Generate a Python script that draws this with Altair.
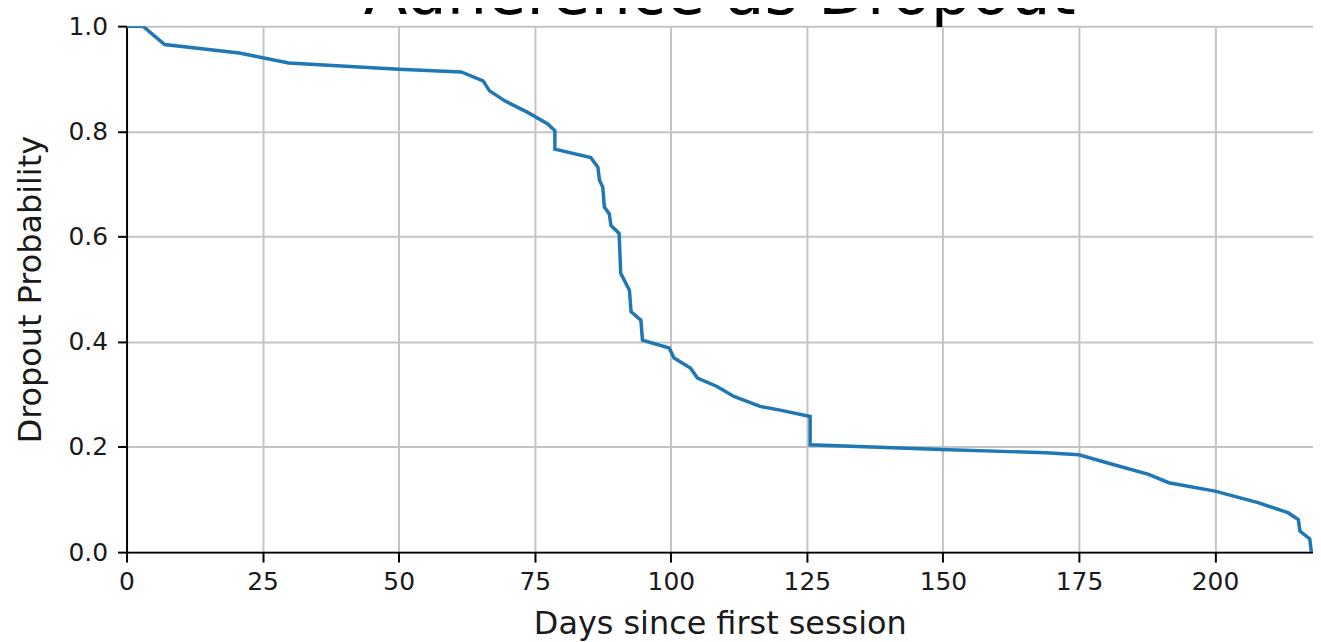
import altair as alt
import pandas as pd

# Kaplan-Meier style dropout curve
days = [0, 3, 7, 20.7, 25, 29.8, 50, 61.5, 65.5, 66.7, 69.5, 73.7, 77.4,
        78.7, 78.7, 85.3, 86.6, 86.9, 87.5, 87.8, 88.7, 89.0, 90.5, 90.8,
        92.4, 92.7, 94.5, 94.8, 99.7, 100.6, 103.6, 104.9, 108.5, 111.6,
        116.4, 120.1, 125.6, 125.6, 149.7, 168.9, 175, 181.1, 187.8, 191.5,
        200, 207.9, 213.4, 215.3, 215.6, 217.4, 217.7]
probs = [1.0, 1.0, 0.965, 0.949, 0.940, 0.930, 0.918, 0.913, 0.896, 0.877,
         0.858, 0.836, 0.814, 0.801, 0.766, 0.750, 0.732, 0.707, 0.694,
         0.656, 0.643, 0.621, 0.606, 0.530, 0.498, 0.457, 0.441, 0.403,
         0.388, 0.369, 0.350, 0.331, 0.315, 0.296, 0.277, 0.270, 0.258,
         0.204, 0.195, 0.189, 0.185, 0.167, 0.148, 0.132, 0.116, 0.094,
         0.075, 0.062, 0.040, 0.025, 0.0]
x_ticks = [0, 25, 50, 75, 100, 125, 150, 175, 200]
y_ticks = [0.0, 0.2, 0.4, 0.6, 0.8, 1.0]
title_text = ["Adherence as Dropout"]

df = pd.DataFrame({"day": days, "prob": probs, "step": list(range(len(days)))})
title_df = pd.DataFrame({"t": title_text})

FONT = "DejaVu Sans"
W, H = 1191, 528

line = alt.Chart(df).mark_line(color="#1f77b4", strokeWidth=3.5, clip=True).encode(
    x=alt.X("day:Q",
            scale=alt.Scale(domain=[0, 218], nice=False, zero=False),
            axis=alt.Axis(values=x_ticks, title="Days since first session",
                          format="d", grid=True, gridColor="#c4c4c4", gridWidth=2,
                          domainColor="black", domainWidth=2,
                          tickColor="black", tickWidth=2, tickSize=10,
                          labelFont=FONT, labelFontSize=25, labelColor="#1a1a1a",
                          labelPadding=8, labelFlush=False,
                          titleFont=FONT, titleFontSize=32, titleFontWeight="normal",
                          titleColor="#1a1a1a", titleBaseline="alphabetic",
                          titleY=82, titleX=W / 2)),
    y=alt.Y("prob:Q",
            scale=alt.Scale(domain=[0, 1], nice=False),
            axis=alt.Axis(values=y_ticks, title="Dropout Probability",
                          format=".1f", grid=True, gridColor="#c4c4c4", gridWidth=2,
                          domainColor="black", domainWidth=2,
                          tickColor="black", tickWidth=2, tickSize=9,
                          labelFont=FONT, labelFontSize=25, labelColor="#1a1a1a",
                          labelPadding=10, labelFlush=False,
                          titleFont=FONT, titleFontSize=32, titleFontWeight="normal",
                          titleColor="#1a1a1a", titleAngle=270,
                          titleBaseline="alphabetic", titleAlign="center",
                          titleX=-86, titleY=H / 2)),
    order="step:Q",
)

title = alt.Chart(title_df).mark_text(
    font=FONT, fontSize=64, color="black", baseline="alphabetic", align="center"
).encode(
    text="t:N",
    x=alt.value(W / 2),
    y=alt.value(-12),
)

chart = alt.layer(line, title).properties(
    width=W, height=H,
    autosize=alt.AutoSizeParams(type="none"),
    padding={"left": 119, "top": 17, "right": 0, "bottom": 89},
).configure_view(
    stroke="black", strokeWidth=2
).configure(background="white")

chart.save("out.html", embed_options={"renderer": "svg", "actions": False})
